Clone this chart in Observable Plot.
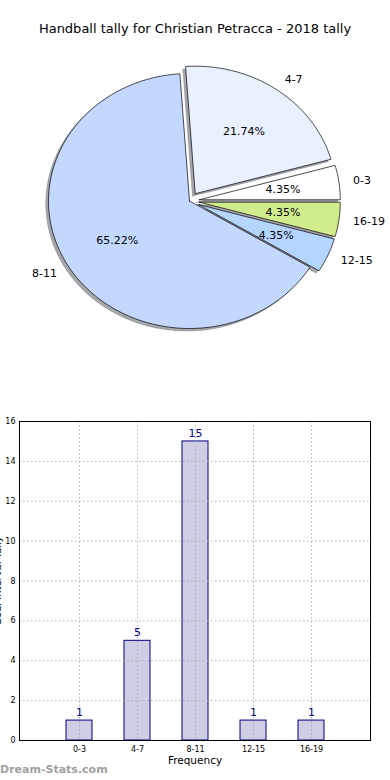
<!DOCTYPE html>
<html><head><meta charset="utf-8">
<script src="https://cdn.jsdelivr.net/npm/d3@7"></script>
<script src="https://cdn.jsdelivr.net/npm/@observablehq/plot@0.6"></script>
<style>
body{margin:0;width:390px;height:780px;position:relative;overflow:hidden;background:#fff;font-family:"DejaVu Sans",sans-serif;}
#title{position:absolute;top:21px;left:0;width:390px;text-align:center;font-size:13px;color:#000;}
#pie{position:absolute;top:0;left:0;}
#bar{position:absolute;top:400px;left:0;}
#wm{position:absolute;left:0;top:763px;font-size:11px;color:#a0a0a0;font-weight:bold;}
svg{overflow:visible;}
</style></head><body>
<div id="pie"></div>
<div id="title">Handball tally for Christian Petracca - 2018 tally</div>
<div id="bar"></div>
<div id="wm">Dream-Stats.com</div>
<script>
const chartTitle = "Handball tally for Christian Petracca - 2018 tally";
const categories = ["0-3", "4-7", "8-11", "12-15", "16-19"];
const tallies = [1, 5, 15, 1, 1];
const yTicks = [0, 2, 4, 6, 8, 10, 12, 14, 16];
const xLabel = "Frequency";
const yLabel = "Goal Interval Tally";

// styles
const sliceColors = ["#ffffff", "#e9f0ff", "#c4d8ff", "#b5d5ff", "#d1ec8d"];
const explode = [0.07, 0.07, 0, 0.07, 0.07];

const total = d3.sum(tallies);
const rad = Math.PI / 180;

// build slice geometry (unit circle, matplotlib: start at 0deg, counter-clockwise)
let acc = 0;
const slices = categories.map((c, i) => {
  const a0 = acc / total * 360;
  acc += tallies[i];
  const a1 = acc / total * 360;
  const mid = (a0 + a1) / 2;
  const ox = explode[i] * Math.cos(mid * rad), oy = explode[i] * Math.sin(mid * rad);
  const n = Math.max(2, Math.ceil((a1 - a0) / 1));
  const pts = [{x: ox, y: oy}];
  for (let k = 0; k <= n; k++) {
    const a = (a0 + (a1 - a0) * k / n) * rad;
    pts.push({x: ox + Math.cos(a), y: oy + Math.sin(a)});
  }
  pts.push({x: ox, y: oy});
  return {cat: c, value: tallies[i], mid, ox, oy, pts, color: sliceColors[i]};
});

const labelData = slices.map(s => ({
  text: s.cat,
  x: s.ox + 1.1 * Math.cos(s.mid * rad),
  y: s.oy + 1.1 * Math.sin(s.mid * rad),
  anchor: Math.cos(s.mid * rad) >= 0 ? "start" : "end"
}));
const pctData = slices.map(s => ({
  text: (s.value / total * 100).toFixed(2) + "%",
  x: s.ox + 0.6 * Math.cos(s.mid * rad),
  y: s.oy + 0.6 * Math.sin(s.mid * rad)
}));

const shadowMarks = slices.map(s => Plot.line(s.pts, {
  x: d => d.x - 0.02, y: d => d.y - 0.02, fill: "#4a4d55", fillOpacity: 0.5, stroke: "#4a4d55", strokeOpacity: 0.3, strokeWidth: 0.7, curve: "linear"
}));
const sliceMarks = slices.map(s => Plot.line(s.pts, {
  x: "x", y: "y", fill: s.color, stroke: "#000", strokeWidth: 0.7, curve: "linear", strokeLinejoin: "miter"
}));

const pie = Plot.plot({
  width: 390, height: 360,
  marginLeft: 48, marginRight: 60, marginTop: 73, marginBottom: 32,
  style: {fontFamily: "DejaVu Sans", fontSize: "11px", background: "transparent"},
  x: {domain: [-1, 1], axis: null},
  y: {domain: [-1, 1], axis: null},
  marks: [
    ...shadowMarks,
    ...sliceMarks,
    Plot.text(labelData.filter(d => d.anchor === "start"), {x: "x", y: "y", text: "text", textAnchor: "start", fontSize: 11, fill: "#000"}),
    Plot.text(labelData.filter(d => d.anchor === "end"), {x: "x", y: "y", text: "text", textAnchor: "end", fontSize: 11, fill: "#000"}),
    Plot.text(pctData, {x: "x", y: "y", text: "text", fontSize: 11, fill: "#000"})
  ]
});
document.getElementById("pie").append(pie);
document.getElementById("title").textContent = chartTitle;

const barData = categories.map((c, i) => ({cat: c, v: tallies[i]}));
const bar = Plot.plot({
  width: 390, height: 380,
  marginTop: 21, marginBottom: 40, marginLeft: 19, marginRight: 20,
  style: {fontFamily: "DejaVu Sans", fontSize: "8px", background: "transparent"},
  x: {type: "band", domain: categories, paddingInner: 0.556, paddingOuter: 0.778},
  y: {domain: [0, 16]},
  marks: [
    Plot.barY(barData, {x: "cat", y: "v", fill: "#cdcde3", stroke: "#000080", strokeWidth: 1}),
    Plot.gridY(yTicks, {stroke: "#a8a8a8", strokeOpacity: 0.9, strokeDasharray: "1.5,2.5", strokeWidth: 1}),
    Plot.gridX(categories, {stroke: "#a8a8a8", strokeOpacity: 0.9, strokeDasharray: "1.5,2.5", strokeWidth: 1}),
    Plot.text(barData, {x: "cat", y: "v", text: d => String(d.v), dy: -8, fontSize: 11, fill: "#000080"}),
    Plot.frame({stroke: "#000", strokeWidth: 1}),
    Plot.axisX({tickSize: 0, tickPadding: 6, label: null, fontSize: 8}),
    Plot.axisY({ticks: yTicks, tickSize: 0, tickPadding: 4, label: null, fontSize: 8}),
    Plot.text([xLabel], {frameAnchor: "bottom", lineAnchor: "middle", text: d => d, dy: 20, fontSize: 10.5, fill: "#000"}),
    Plot.text([yLabel], {frameAnchor: "left", textAnchor: "middle", lineAnchor: "middle", text: d => d, dx: -22, rotate: -90, fontSize: 10, fill: "#000"})
  ]
});
document.getElementById("bar").append(bar);
</script>
</body></html>
